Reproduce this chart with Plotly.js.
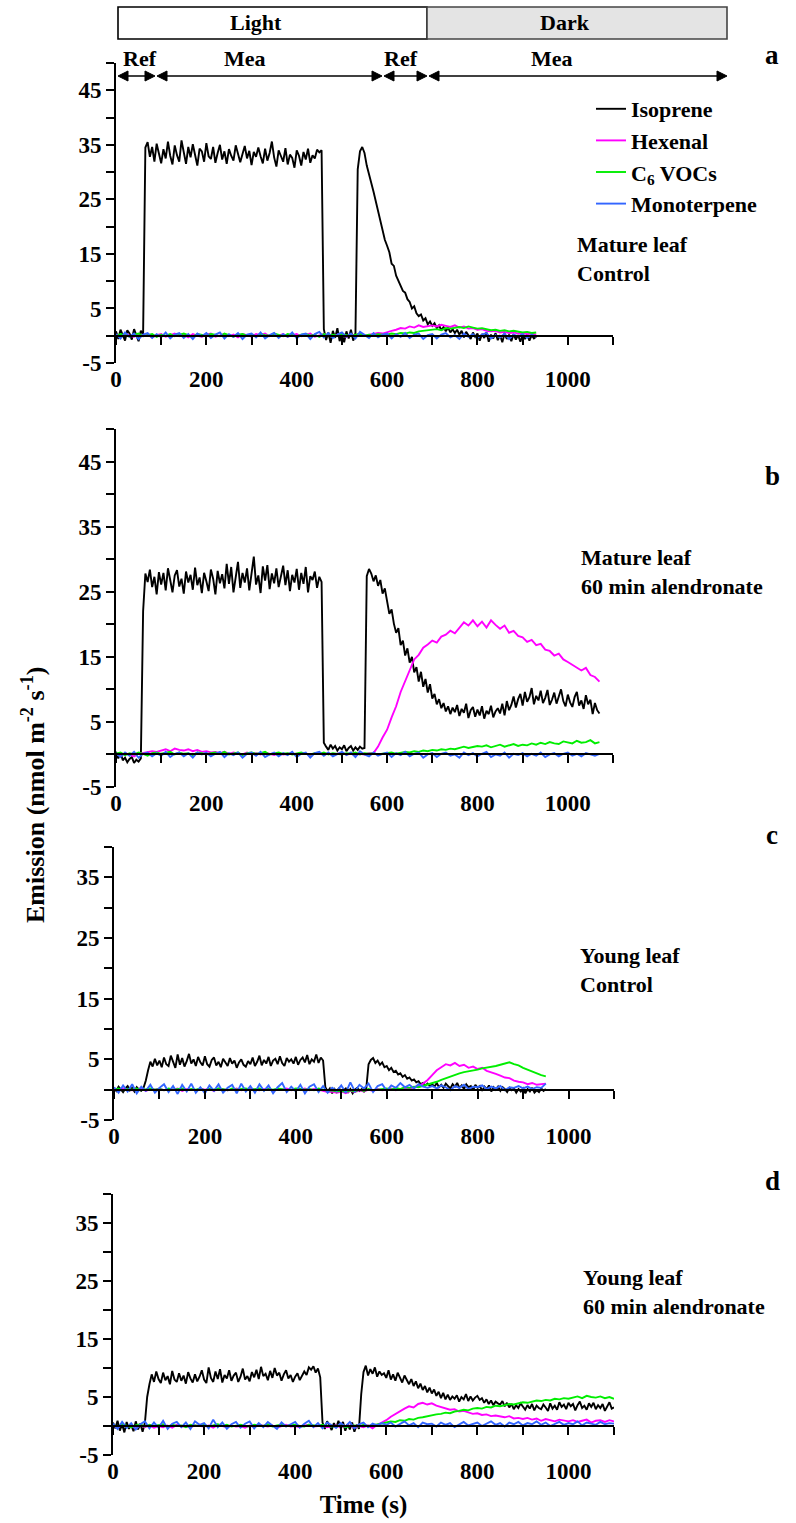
<!DOCTYPE html>
<html><head><meta charset="utf-8">
<script src="https://cdn.plot.ly/plotly-3.0.1.min.js"></script>
<style>html,body{margin:0;padding:0;background:#fff}#chart{width:796px;height:1523px}</style>
</head><body><div id="chart"></div>
<script>
// ---------------- DATA ----------------
const seriesNames = ['Isoprene', 'Hexenal', 'C<sub>6</sub> VOCs', 'Monoterpene'];
const panelLetters = ['a', 'b', 'c', 'd'];
const panelLabels = ['Mature leaf<br>Control', 'Mature leaf<br>60 min alendronate', 'Young leaf<br>Control', 'Young leaf<br>60 min alendronate'];
const headerPhases = ['Light', 'Dark'];
const headerSegments = ['Ref', 'Mea', 'Ref', 'Mea'];
const xTickVals = [0, 200, 400, 600, 800, 1000];
const yLabelValsTall = [-5, 5, 15, 25, 35, 45];
const yLabelValsShort = [-5, 5, 15, 25, 35];
const isoStep = 5;    // s between isoprene readings
const otherStep = 10; // s between readings of the other compounds

// Panel a: mature leaf, control
const isoA = [
 0.8,-0.6,1.1,0.2,-0.9,1.0,0.4,-0.7,1.2,0.1,
 -1.0,0.9,0.3,34.5,35.5,32.8,34.6,31.9,35.2,33.4,
 31.6,34.2,32.5,35.6,33.0,31.4,34.9,33.1,31.9,35.8,
 33.4,31.5,34.6,32.7,35.1,33.0,31.2,34.3,33.8,31.9,
 35.3,32.9,32.4,34.6,31.7,33.5,35.0,32.3,33.8,31.5,
 34.2,33.0,32.1,34.9,33.4,31.8,33.3,34.8,32.5,33.9,
 31.3,33.7,32.8,34.5,32.9,31.6,34.3,32.1,33.5,35.6,
 32.7,31.0,34.0,33.1,31.9,34.4,31.4,33.2,32.6,30.8,
 34.0,33.0,31.2,33.7,32.3,34.3,31.7,33.1,32.5,34.1,
 33.6,34.0,1.2,-0.8,0.6,-1.3,0.9,-0.4,1.4,-1.0,
 0.3,-1.2,0.8,-0.5,1.1,-0.9,0.5,30.5,33.8,34.6,
 33.5,31.2,29.8,28.0,26.4,24.6,22.9,21.2,19.0,17.6,
 16.5,15.3,13.2,12.8,11.0,10.1,9.4,8.2,7.9,6.7,
 6.2,5.0,5.4,4.1,3.6,3.9,2.8,3.2,2.1,2.6,
 1.8,2.3,1.4,1.9,1.0,1.6,0.8,1.5,0.6,1.2,
 0.5,1.1,0.2,0.9,-0.3,0.7,0.1,-0.6,0.6,-0.2,
 0.4,-0.9,0.3,-0.4,0.6,-1.1,0.2,-0.5,0.5,-0.8,
 0.1,-1.2,0.4,-0.6,0.2,-1.0,0.3,-0.7,0.1,-1.1,
 0.2,-0.6,0.3,-0.9,0.1,-0.5,-0.2];
const hexA = [
 0.2,-0.3,0.4,0.0,-0.2,0.3,-0.1,0.2,-0.3,0.1,
 0.3,-0.2,0.1,0.4,-0.1,0.2,-0.3,0.3,0.0,-0.2,
 0.2,0.4,-0.2,0.1,0.3,-0.1,0.2,-0.3,0.3,0.1,
 -0.2,0.3,0.1,0.4,-0.1,0.2,0.0,0.3,-0.2,0.1,
 0.3,-0.1,0.2,0.4,-0.2,0.1,0.3,0.0,-0.1,0.2,
 0.3,-0.2,0.2,0.1,0.4,0.0,0.2,0.3,0.5,0.4,
 0.7,0.9,1.1,1.4,1.3,1.7,1.5,1.9,1.6,1.8,
 1.9,1.7,2.0,1.8,1.6,1.9,1.5,1.7,1.3,1.4,
 1.1,1.2,0.9,0.8,0.9,0.6,0.7,0.5,0.6,0.4,
 0.5,0.3,0.4,0.2];
const c6A = [
 -0.1,0.3,0.1,-0.2,0.2,0.4,-0.1,0.1,0.3,-0.2,
 0.2,0.0,0.3,-0.1,0.2,0.4,0.1,-0.2,0.3,0.1,
 0.0,0.3,0.2,-0.1,0.4,0.1,-0.2,0.2,0.3,0.0,
 0.2,-0.1,0.3,0.1,0.0,0.4,0.2,-0.1,0.3,0.1,
 -0.1,0.2,0.3,0.0,0.2,-0.2,0.3,0.1,0.2,0.0,
 0.3,0.1,-0.1,0.2,0.3,0.0,0.2,0.1,0.3,0.2,
 0.2,0.4,0.3,0.5,0.4,0.6,0.5,0.8,0.9,1.0,
 1.1,1.2,1.0,1.4,1.3,1.5,1.6,1.4,1.7,1.5,
 1.3,1.4,1.2,1.0,1.1,0.9,1.0,0.8,0.9,0.7,
 0.6,0.7,0.5,0.6];
const monoA = [
 0.3,-0.5,0.6,-0.2,0.4,-0.6,0.2,0.5,-0.4,0.3,
 -0.3,0.6,-0.5,0.2,0.5,-0.4,0.3,-0.6,0.4,-0.1,
 0.5,-0.4,0.2,0.6,-0.5,0.3,-0.2,0.5,-0.6,0.2,
 0.4,-0.3,0.6,-0.5,0.1,0.5,-0.4,0.3,-0.2,0.6,
 -0.5,0.2,0.4,-0.6,0.3,0.7,-0.3,0.5,-0.4,0.2,
 0.6,-0.2,0.4,-0.5,0.7,0.1,-0.4,0.5,-0.3,0.2,
 0.4,-0.5,0.3,-0.2,0.5,-0.4,0.2,0.4,-0.6,0.1,
 0.3,-0.5,0.2,0.5,-0.3,0.1,-0.6,0.4,-0.2,0.3,
 -0.4,0.2,0.5,-0.5,0.1,-0.3,0.4,-0.6,0.2,-0.1,
 0.3,-0.4,0.2,-0.2];

// Panel b: mature leaf, 60 min alendronate
const isoB = [
 0.4,-0.6,0.3,-0.9,-0.5,-1.2,-0.7,-0.4,-1.3,-0.8,
 -1.1,-0.6,22.0,27.8,26.5,28.4,25.7,27.3,24.6,28.0,
 26.1,27.9,25.2,28.6,26.8,24.9,27.5,28.3,25.8,27.0,
 24.7,28.1,26.4,27.6,25.3,28.7,26.0,27.2,24.8,27.9,
 26.6,25.1,28.4,27.0,24.6,28.2,26.3,27.7,25.5,29.3,
 26.2,28.8,24.9,27.4,29.6,25.6,27.9,26.4,28.6,25.2,
 28.0,30.4,26.1,27.5,24.8,28.9,26.7,29.1,25.4,27.8,
 26.3,28.6,25.7,27.2,29.0,26.0,28.3,25.1,27.6,26.4,
 28.5,25.3,27.9,26.2,28.8,24.9,27.4,26.8,28.1,25.6,
 27.3,26.5,1.8,1.2,0.7,1.5,0.9,1.3,0.6,1.1,
 0.8,1.4,0.5,1.0,1.3,0.6,1.1,0.7,1.2,0.9,
 1.0,27.4,28.5,27.8,26.6,27.5,25.9,26.8,24.7,25.5,
 23.4,21.6,22.3,20.1,18.7,19.4,16.8,17.5,15.2,16.3,
 14.1,15.0,12.6,13.4,11.2,12.7,10.4,11.6,9.5,10.8,
 8.6,9.3,7.7,8.5,7.1,7.9,6.6,7.4,6.2,7.2,
 6.5,7.6,5.9,7.0,6.4,7.8,5.6,6.8,7.3,5.8,
 6.9,6.0,7.4,5.5,6.7,6.2,7.5,5.7,6.6,7.1,
 6.3,7.8,6.0,8.2,6.8,7.6,8.9,7.2,8.5,9.3,
 7.5,9.6,8.1,8.8,10.2,7.7,9.0,8.3,9.8,7.9,
 8.7,9.9,7.6,8.4,9.5,7.8,8.9,10.0,8.2,7.4,
 9.2,8.0,7.3,8.8,9.6,7.5,8.3,7.0,9.1,7.7,
 8.4,6.2,7.9,6.8,6.3];
const hexB = [
 0.1,-0.2,0.2,0.0,-0.3,0.1,0.2,0.3,0.5,0.4,
 0.6,0.8,0.5,0.9,0.7,0.6,0.8,0.5,0.7,0.4,
 0.5,0.3,0.4,0.2,0.4,0.1,0.3,0.2,0.0,0.3,
 0.1,0.2,0.0,0.3,0.1,-0.1,0.2,0.0,0.1,0.2,
 0.0,0.2,0.1,-0.1,0.2,0.1,0.0,0.2,-0.1,0.1,
 0.2,0.0,0.1,-0.1,0.1,0.0,0.2,0.2,1.2,2.6,
 3.8,5.7,7.4,9.6,11.3,12.9,14.6,15.3,16.4,16.9,
 17.5,17.2,18.1,18.4,19.0,18.6,19.5,20.3,19.8,20.6,
 19.7,20.4,19.5,20.6,19.9,19.3,19.8,18.7,19.0,18.2,
 18.0,17.3,17.6,16.8,17.0,16.1,15.9,15.2,15.5,14.6,
 14.2,13.8,13.4,12.9,13.3,12.2,11.9,11.2];
const c6B = [
 0.1,0.3,-0.1,0.2,0.0,0.3,0.1,-0.2,0.2,0.3,
 0.1,0.2,0.4,0.0,0.3,0.1,0.2,-0.1,0.3,0.2,
 0.0,0.2,0.3,0.1,0.4,0.0,0.2,0.3,-0.1,0.2,
 0.3,0.1,0.2,0.4,0.0,0.2,0.3,0.1,0.2,0.0,
 0.2,0.3,0.1,0.0,0.2,0.1,0.3,0.0,0.2,0.1,
 0.0,0.2,0.1,0.3,0.0,0.2,0.1,0.2,0.0,0.1,
 0.2,0.3,0.1,0.2,0.4,0.3,0.5,0.4,0.6,0.5,
 0.7,0.6,0.8,0.7,0.9,0.8,1.0,1.2,1.0,1.1,
 1.3,1.2,1.4,1.1,1.3,1.5,1.2,1.4,1.6,1.3,
 1.5,1.4,1.7,1.5,1.8,1.6,1.9,1.7,1.6,2.0,
 1.8,1.7,2.1,1.8,1.9,2.2,1.7,1.9];
const monoB = [
 0.2,-0.4,0.3,-0.2,0.4,-0.5,0.1,0.3,-0.3,0.2,
 -0.2,0.4,-0.4,0.1,0.3,-0.3,0.2,-0.5,0.3,0.0,
 0.3,-0.3,0.1,0.4,-0.4,0.2,-0.1,0.3,-0.5,0.1,
 0.3,-0.2,0.4,-0.4,0.0,0.3,-0.3,0.2,-0.1,0.4,
 -0.4,0.1,0.3,-0.5,0.2,0.4,-0.2,0.3,-0.3,0.1,
 0.4,-0.1,0.3,-0.4,0.5,0.0,-0.3,0.3,-0.2,0.1,
 0.3,-0.4,0.2,-0.1,0.4,-0.3,0.1,0.3,-0.5,0.0,
 0.2,-0.4,0.1,0.3,-0.2,0.0,-0.5,0.3,-0.1,0.2,
 -0.3,0.1,0.4,-0.4,0.0,-0.2,0.3,-0.5,0.1,-0.1,
 0.2,-0.3,0.1,-0.2,0.3,-0.4,0.0,0.2,-0.3,0.1,
 0.3,-0.2,0.1,-0.3,0.2,0.0,-0.2,0.1];

// Panel c: young leaf, control
const isoC = [
 0.3,-0.2,0.5,0.1,-0.4,0.2,0.6,-0.1,0.3,-0.3,
 0.4,0.0,-0.2,0.3,1.5,3.2,4.6,3.8,5.1,4.0,
 4.8,3.7,5.3,4.2,3.9,5.6,4.4,3.6,5.8,4.1,
 5.2,3.8,4.7,5.9,4.3,5.0,3.9,5.4,4.5,4.0,
 5.5,4.2,3.8,4.9,5.3,4.0,4.6,3.7,5.1,4.4,
 3.9,5.2,4.3,4.8,3.6,4.5,5.0,4.1,3.8,4.7,
 4.2,5.3,3.9,4.6,5.6,4.0,4.9,4.3,5.4,3.9,
 4.8,5.1,4.2,5.5,4.4,3.9,5.2,4.6,5.0,4.3,
 5.4,4.1,4.9,5.3,4.5,5.7,4.2,5.0,4.6,5.8,
 4.4,5.3,4.8,0.4,-0.3,0.2,-0.6,0.1,-0.4,0.3,
 -0.5,-0.1,0.2,-0.4,0.1,-0.6,0.0,0.3,-0.2,0.1,
 -0.3,0.2,4.2,4.9,5.2,4.4,4.8,4.1,4.5,3.7,
 3.9,3.2,3.6,2.9,3.1,2.5,2.7,2.1,2.4,1.8,
 2.0,1.5,1.7,1.2,1.4,0.9,1.1,0.7,1.0,0.6,
 0.9,0.5,1.1,0.4,0.8,0.3,1.0,0.6,0.2,0.9,
 0.5,1.1,0.3,0.7,0.1,0.9,0.4,0.6,-0.1,0.8,
 0.3,0.6,-0.2,0.5,0.1,0.7,-0.3,0.4,0.0,0.5,
 -0.2,0.4,0.1,-0.4,0.3,-0.1,0.2,-0.5,0.1,-0.3,
 0.2,-0.6,0.1,-0.3,0.3,-0.5,-0.1,-0.4,0.2,-0.2,
 0.1];
const hexC = [
 0.1,-0.2,0.2,0.0,-0.1,0.1,0.2,-0.2,0.1,0.0,
 0.2,-0.1,0.1,0.0,0.2,-0.2,0.1,0.0,-0.1,0.2,
 0.0,0.1,-0.2,0.2,0.1,-0.1,0.0,0.2,-0.1,0.1,
 0.2,0.0,-0.1,0.1,0.2,-0.2,0.1,0.0,0.2,-0.1,
 0.1,0.0,0.2,-0.1,0.1,0.0,-0.2,-0.4,-0.3,-0.5,
 -0.3,-0.6,-0.2,-0.4,-0.1,-0.3,0.0,-0.2,0.1,-0.1,
 0.0,0.2,-0.1,0.1,0.3,0.2,0.4,0.6,1.0,1.6,
 2.4,3.2,3.7,4.2,4.0,4.4,3.9,4.1,3.6,3.8,
 3.4,3.6,3.1,2.9,2.6,2.3,2.0,1.9,1.5,1.3,
 1.2,0.9,1.1,0.8,0.9,1.0];
const c6C = [
 0.0,0.2,-0.1,0.1,0.0,0.2,-0.1,0.1,0.2,0.0,
 0.1,-0.1,0.2,0.0,0.1,0.2,-0.1,0.1,0.0,0.2,
 -0.1,0.1,0.0,0.2,0.1,-0.1,0.2,0.0,0.1,0.2,
 0.0,0.1,0.2,-0.1,0.1,0.0,0.2,0.1,-0.1,0.0,
 0.2,0.1,0.0,0.1,-0.1,0.2,0.0,-0.2,-0.1,-0.3,
 -0.2,-0.4,-0.1,-0.3,0.0,-0.2,0.1,-0.1,0.0,0.1,
 0.2,0.0,0.3,0.1,0.4,0.3,0.5,0.4,0.6,0.8,
 1.0,1.3,1.6,1.9,2.2,2.4,2.7,2.9,3.0,3.2,
 3.3,3.5,3.6,3.8,3.9,4.1,4.3,4.5,4.2,4.0,
 3.6,3.3,2.9,2.6,2.4,2.2];
const monoC = [
 0.4,-0.5,0.7,-0.3,0.9,-0.6,0.5,-0.2,0.8,-0.5,
 0.3,0.9,-0.4,0.6,-0.7,0.8,-0.3,1.0,-0.5,0.4,
 -0.6,0.7,-0.2,0.9,-0.5,0.3,0.8,-0.6,1.0,-0.3,
 0.6,-0.5,0.9,-0.2,0.7,-0.6,0.4,1.1,-0.4,0.5,
 -0.3,0.8,-0.6,0.5,0.9,-0.4,0.6,-0.5,0.3,-0.2,
 0.7,-0.5,1.2,-0.3,0.8,0.2,1.0,-0.4,0.6,0.9,
 -0.2,0.7,0.3,1.1,0.4,0.8,0.2,0.9,0.5,0.3,
 0.6,0.2,0.7,0.4,-0.1,0.6,0.3,0.8,0.1,0.5,
 0.4,0.7,0.1,0.5,0.2,0.6,-0.1,0.4,0.3,0.6,
 0.2,0.5,0.1,0.4,0.3,1.0];

// Panel d: young leaf, 60 min alendronate
const isoD = [
 0.6,-0.4,0.9,-0.8,0.3,-1.1,0.7,-0.5,0.2,-0.9,
 0.8,-0.6,0.4,-1.0,0.5,5.0,7.2,8.9,7.6,9.4,
 8.1,7.4,9.2,7.9,8.6,7.2,9.5,8.0,7.6,9.1,
 7.8,8.7,7.3,9.3,8.2,7.5,8.9,7.7,8.5,9.6,
 8.0,7.4,10.1,8.3,7.6,9.4,8.1,9.8,7.5,8.8,
 8.2,9.6,7.8,8.7,9.2,7.6,8.5,9.9,8.0,8.6,
 7.7,9.3,8.4,9.7,8.1,10.2,8.6,9.0,7.9,9.5,
 8.3,10.0,8.7,9.2,7.8,8.9,9.6,8.2,8.8,7.6,
 8.5,9.1,7.9,8.6,9.4,8.8,10.1,9.7,10.3,9.2,
 9.9,8.4,0.6,-0.5,0.8,0.2,-0.7,0.5,-0.3,0.9,
 -0.4,0.7,-0.8,0.3,-0.6,0.6,-1.0,0.2,-0.5,5.5,
 9.3,10.4,8.7,9.8,9.0,10.1,8.5,9.4,8.8,9.1,
 8.3,9.6,8.0,8.9,7.8,9.2,8.4,7.5,8.7,7.9,
 7.2,8.1,6.9,7.7,6.5,7.3,6.2,6.9,5.8,6.6,
 5.6,6.3,5.2,5.9,4.8,5.7,4.6,5.4,4.5,5.1,
 4.7,5.3,4.2,5.0,4.6,5.5,4.3,5.1,4.4,4.9,
 5.2,4.5,4.8,4.0,4.6,3.8,4.4,3.6,4.2,3.9,
 3.7,4.3,3.4,4.0,3.2,3.8,2.9,3.6,3.1,3.9,
 3.3,2.8,3.6,3.0,3.8,2.7,3.5,3.1,2.9,3.7,
 3.2,2.6,3.9,3.0,3.5,2.8,4.1,3.3,3.7,2.9,
 4.0,3.4,3.8,2.7,3.6,4.2,3.1,3.5,2.8,3.9,
 3.3,4.0,2.9,3.6,3.1,3.8,2.6,3.4,4.1,3.0,
 3.2];
const hexD = [
 0.1,-0.3,0.2,-0.1,0.0,-0.4,0.2,-0.2,0.1,-0.3,
 0.0,-0.2,0.1,-0.3,0.2,-0.1,0.0,-0.2,0.1,0.0,
 -0.1,0.1,-0.3,0.2,0.0,-0.2,0.1,-0.1,0.0,-0.3,
 0.1,-0.2,0.2,0.0,-0.1,0.1,-0.3,0.0,0.2,-0.1,
 0.0,-0.2,0.1,0.2,-0.1,0.0,0.1,-0.2,0.0,0.1,
 -0.2,0.0,0.1,-0.3,0.0,-0.2,0.1,-0.4,0.2,0.6,
 1.0,1.6,2.1,2.6,3.0,3.4,3.2,3.8,4.0,3.7,
 3.9,3.5,3.3,3.0,2.8,2.9,2.5,2.6,2.3,2.1,
 2.2,1.9,2.0,1.7,1.8,1.6,1.5,1.7,1.3,1.4,
 1.2,1.4,1.1,1.3,0.9,1.2,1.0,0.8,1.1,0.9,
 0.8,1.0,0.7,0.9,1.1,0.6,0.9,1.0,0.7,1.0,
 0.8];
const c6D = [
 0.2,-0.1,0.3,0.0,-0.2,0.1,0.3,-0.1,0.2,0.0,
 0.1,0.3,-0.1,0.2,0.0,0.1,-0.2,0.2,0.1,0.0,
 0.2,-0.1,0.1,0.3,0.0,0.2,-0.1,0.1,0.2,0.0,
 -0.1,0.2,0.1,0.0,0.3,-0.1,0.1,0.2,0.0,0.1,
 0.2,0.0,-0.1,0.2,0.1,0.0,0.2,0.1,-0.1,0.0,
 0.1,-0.2,0.0,0.1,-0.1,0.2,0.0,0.1,0.2,0.4,
 0.6,0.8,0.7,1.0,0.9,1.2,1.1,1.4,1.5,1.7,
 1.8,2.0,2.1,2.3,2.2,2.5,2.6,2.8,2.7,3.0,
 3.1,3.0,3.3,3.2,3.5,3.4,3.6,3.8,3.7,3.9,
 4.1,4.0,4.2,4.4,4.3,4.5,4.4,4.7,4.6,4.8,
 4.7,4.9,5.1,4.8,5.2,5.0,4.9,5.1,4.8,5.0,
 4.7];
const monoD = [
 0.4,-0.5,0.7,-0.3,0.5,-0.6,0.3,0.8,-0.4,0.6,
 -0.3,0.9,-0.5,0.4,0.7,-0.2,0.6,-0.5,0.8,0.2,
 0.5,-0.4,1.1,-0.2,0.6,-0.5,0.3,0.7,-0.3,0.4,
 0.8,-0.4,0.5,-0.2,0.7,0.1,-0.5,0.6,-0.1,0.3,
 0.7,-0.3,0.4,0.9,-0.2,0.5,-0.4,0.6,0.2,-0.3,
 0.5,-0.1,0.7,-0.4,0.3,0.6,-0.2,0.4,0.1,0.5,
 0.2,0.6,-0.1,0.4,0.8,0.1,0.5,-0.2,0.6,0.3,
 0.4,-0.1,0.6,0.2,0.5,-0.2,0.3,0.7,0.1,0.4,
 0.6,0.0,0.4,0.8,0.2,0.5,-0.1,0.6,0.3,0.7,
 0.1,0.5,0.3,0.8,0.2,0.6,0.0,0.4,0.7,0.2,
 0.5,0.3,0.8,0.1,0.6,0.4,0.2,0.7,0.3,0.5,
 0.4];

// ---------------- STYLE / LAYOUT ----------------
const W = 796, H = 1523;
const FONT = 'Liberation Serif, Times New Roman, serif';
const colors = ['#000000', '#ff00ff', '#00ee00', '#3366ff'];
const panelData = [
  [isoA, hexA, c6A, monoA],
  [isoB, hexB, c6B, monoB],
  [isoC, hexC, c6C, monoC],
  [isoD, hexD, c6D, monoD]
];
// pixel geometry of each panel (left, right, top, bottom) and y maximum
const geom = [
  {l: 116, r: 613, t: 63, b: 363, ymax: 50},
  {l: 116, r: 613, t: 429, b: 787, ymax: 50},
  {l: 114, r: 614, t: 847, b: 1120, ymax: 40},
  {l: 113, r: 614, t: 1194, b: 1455, ymax: 40}
];
const fx = p => p / W;
const fy = p => 1 - p / H;
const timeAxis = (n, step) => Array.from({length: n}, (_, i) => i * step);

const traces = [];
panelData.forEach((set, p) => {
  const xa = p === 0 ? 'x' : 'x' + (p + 1);
  const ya = p === 0 ? 'y' : 'y' + (p + 1);
  set.forEach((vals, s) => {
    const step = s === 0 ? isoStep : otherStep;
    traces.push({
      type: 'scatter', mode: 'lines',
      x: timeAxis(vals.length, step), y: vals,
      xaxis: xa, yaxis: ya,
      name: seriesNames[s],
      legendgroup: 'g' + s,
      showlegend: p === 0,
      line: {color: colors[s], width: 1.9},
      hoverinfo: 'skip'
    });
  });
  // empty carrier so the bottom tick-label axis of this panel is drawn
  traces.push({type: 'scatter', mode: 'lines', x: [], y: [], xaxis: 'x' + (p + 5), yaxis: ya,
    showlegend: false, hoverinfo: 'skip'});
});

const tickFont = {family: FONT, size: 23, color: '#000', weight: 'bold'};
const layout = {
  width: W, height: H,
  margin: {l: 0, r: 0, t: 0, b: 0},
  paper_bgcolor: '#fff', plot_bgcolor: 'rgba(0,0,0,0)',
  font: {family: FONT, color: '#000'},
  showlegend: true,
  legend: {
    x: fx(591), y: fy(88), xanchor: 'left', yanchor: 'top',
    bgcolor: 'rgba(0,0,0,0)', font: {family: FONT, size: 22, weight: 'bold', color: '#000'},
    tracegroupgap: 0, traceorder: 'grouped'
  },
  shapes: [],
  annotations: []
};

geom.forEach((g, p) => {
  const n = p === 0 ? '' : String(p + 1);
  const xd = [fx(g.l), fx(g.r)];
  const yd = [fy(g.b), fy(g.t)];
  const zeroFrac = yd[0] + (5 / (g.ymax + 5)) * (yd[1] - yd[0]);
  const labelVals = g.ymax === 50 ? yLabelValsTall : yLabelValsShort;
  const minorVals = [];
  for (let v = 0; v <= g.ymax; v += 10) minorVals.push(v);
  // data x-axis drawn as the line through y = 0 with downward ticks
  layout['xaxis' + n] = {
    domain: xd, range: [0, 1100], anchor: 'free', position: zeroFrac,
    showline: true, linecolor: '#000', linewidth: 2,
    ticks: 'outside', ticklen: 8, tickwidth: 2, tickcolor: '#000',
    tick0: 0, dtick: 100, showticklabels: false,
    showgrid: false, zeroline: false, fixedrange: true
  };
  // label axis at the bottom of the panel
  const labelAxis = 'xaxis' + (p + 5);
  layout[labelAxis] = {
    overlaying: 'x' + n, anchor: 'y' + n, side: 'bottom',
    range: [0, 1100], showline: false, ticks: '',
    tickmode: 'array', tickvals: xTickVals, ticktext: xTickVals.map(String),
    tickfont: tickFont, showgrid: false, zeroline: false, fixedrange: true
  };
  if (p === 3) {
    layout[labelAxis].title = {text: 'Time (s)', font: {family: FONT, size: 25, weight: 'bold', color: '#000'}, standoff: 12};
  }
  layout['yaxis' + n] = {
    domain: yd, range: [-5, g.ymax], anchor: 'x' + n,
    showline: true, linecolor: '#000', linewidth: 2,
    ticks: 'outside', ticklen: 8, tickwidth: 2, tickcolor: '#000',
    tickmode: 'array', tickvals: labelVals, ticktext: labelVals.map(String),
    minor: {tickmode: 'array', tickvals: minorVals, ticks: 'outside', ticklen: 8, tickwidth: 2, tickcolor: '#000'},
    tickfont: tickFont, showgrid: false, zeroline: false, fixedrange: true
  };
});

const txt = (x, y, t, size, extra) => Object.assign({
  xref: 'paper', yref: 'paper', x: fx(x), y: fy(y), text: t, showarrow: false,
  xanchor: 'center', yanchor: 'middle',
  font: {family: FONT, size: size, weight: 'bold', color: '#000'}
}, extra || {});

// panel letters
const letterY = [55, 476, 835, 1181];
panelLetters.forEach((t, i) => layout.annotations.push(txt(772, letterY[i], t, 27)));
// panel descriptions
const labelPos = [[575, 259], [579, 572], [578, 970], [581, 1292]];
panelLabels.forEach((t, i) => layout.annotations.push(
  txt(labelPos[i][0], labelPos[i][1], t, 22, {xanchor: 'left', align: 'left'})));
// y title
layout.annotations.push(txt(33, 795, 'Emission (nmol m<sup>-2</sup> s<sup>-1</sup>)', 26, {textangle: -90}));

// header: Light / Dark boxes
layout.shapes.push({type: 'rect', xref: 'paper', yref: 'paper', x0: fx(118), x1: fx(427), y0: fy(39), y1: fy(7),
  line: {color: '#000', width: 1.6}, fillcolor: '#ffffff'});
layout.shapes.push({type: 'rect', xref: 'paper', yref: 'paper', x0: fx(427), x1: fx(727), y0: fy(39), y1: fy(7),
  line: {color: '#444', width: 1.6}, fillcolor: '#e4e4e4'});
layout.annotations.push(txt(256, 23, headerPhases[0], 22));
layout.annotations.push(txt(565, 23, headerPhases[1], 22));
// Ref / Mea double arrows (shaft + two filled heads)
const segs = [[118, 155], [157, 382], [384, 427], [429, 727]];
const segLabelX = [140, 245, 401, 552];
const arrowY = 76, headLen = 10, headHalf = 5;
segs.forEach((s, i) => {
  layout.shapes.push({type: 'line', xref: 'paper', yref: 'paper', x0: fx(s[0] + 2), x1: fx(s[1] - 2),
    y0: fy(arrowY), y1: fy(arrowY), line: {color: '#000', width: 1.6}});
  const lh = `M${fx(s[0])},${fy(arrowY)} L${fx(s[0] + headLen)},${fy(arrowY - headHalf)} L${fx(s[0] + headLen)},${fy(arrowY + headHalf)} Z`;
  const rh = `M${fx(s[1])},${fy(arrowY)} L${fx(s[1] - headLen)},${fy(arrowY - headHalf)} L${fx(s[1] - headLen)},${fy(arrowY + headHalf)} Z`;
  [lh, rh].forEach(path => layout.shapes.push({type: 'path', xref: 'paper', yref: 'paper', path: path,
    fillcolor: '#000', line: {color: '#000', width: 1}}));
  layout.annotations.push(txt(segLabelX[i], 58, headerSegments[i], 22));
});

Plotly.newPlot('chart', traces, layout, {staticPlot: true, displayModeBar: false});
</script>
</body></html>
